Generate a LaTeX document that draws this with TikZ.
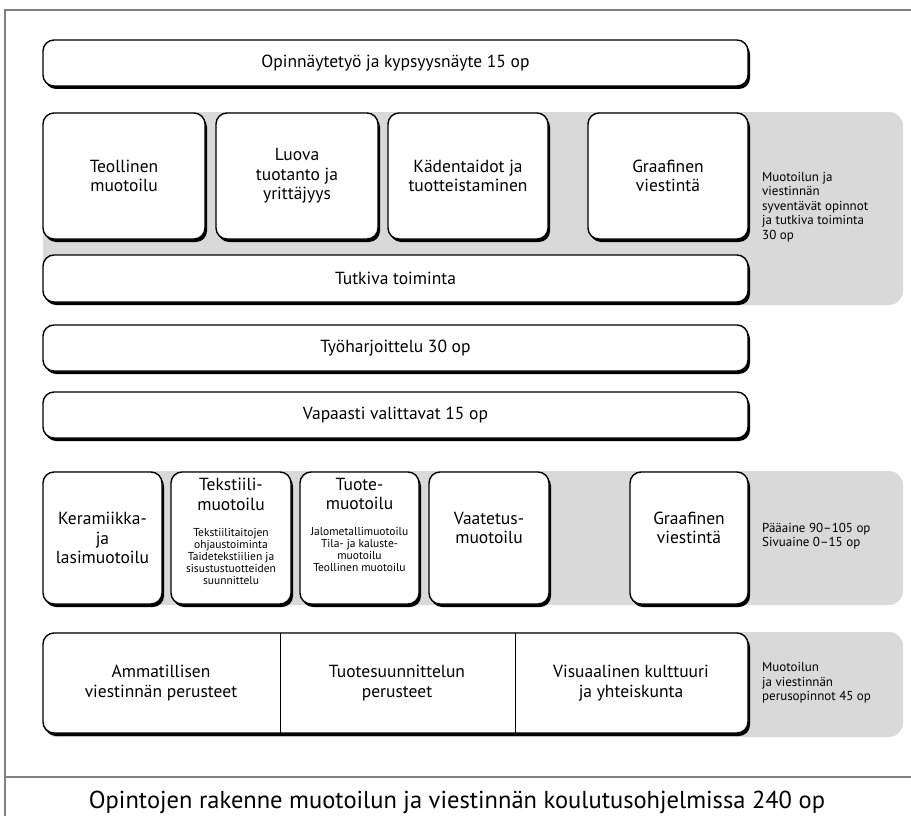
\documentclass[tikz,border=0pt]{standalone}
\usepackage{fontspec}
\setmainfont{PT Sans}
\usetikzlibrary{positioning,shadows}
\definecolor{fascia}{HTML}{D9D9D9}
\definecolor{cornice}{HTML}{808080}
\tikzset{
	card/.style={draw, line width=1.4pt, rounded corners=11pt, fill=white, align=center, anchor=north west,
		inner sep=0pt, outer sep=0pt, font=\fontsize{17.5}{19.5}\selectfont,
		drop shadow={shadow xshift=2pt, shadow yshift=-3pt, fill=black, opacity=1}},
	title/.style={align=center, inner sep=0pt, font=\fontsize{17.5}{19.5}\selectfont},
	small/.style={align=center, inner sep=0pt, font=\fontsize{11.5}{11.8}\selectfont},
	side/.style={anchor=west, align=left, inner sep=0pt, font=\fontsize{13}{14.5}\selectfont},
}

\begin{document}
\begin{tikzpicture}[x=1pt,y=-1pt]
		\useasboundingbox (0,0) rectangle (911,816);
		\clip (0,0) rectangle (911,816);
		%Cornice
		\draw [cornice, line width=1.5pt] (911,10) -- (5,10) -- (5,816);
		\draw [cornice, line width=1.5pt] (5,777) -- (911,777);
		%Fasce
		\fill [fascia, rounded corners=14pt] (43,112) rectangle (903,305);
		\fill [fascia, rounded corners=14pt] (43,471) rectangle (903,605);
		\fill [fascia, rounded corners=14pt] (43,632) rectangle (903,737);
		%Opinnaytetyo
		\node [card, minimum width=705pt, minimum height=46pt] (tesi) at (43,40) {Opinnäytetyö ja kypsyysnäyte 15 op};
		%Syventavat
		\node [card, minimum width=162pt, minimum height=126pt] (teollinen) at (43,113) {Teollinen\\muotoilu};
		\node [card, minimum width=162pt, minimum height=126pt] (luova) at (216,113) {Luova\\tuotanto ja\\yrittäjyys};
		\node [card, minimum width=160pt, minimum height=126pt] (kadentaidot) at (388,113) {Kädentaidot ja\\tuotteistaminen};
		\node [card, minimum width=160pt, minimum height=126pt] (graafinenA) at (588,113) {Graafinen\\viestintä};
		\node [card, minimum width=705pt, minimum height=47pt] (tutkiva) at (43,255) {Tutkiva toiminta};
		\node [side] (sivuA) at (762,207) {Muotoilun ja\\viestinnän\\syventävät opinnot\\ja tutkiva toiminta\\30 op};
		%Harjoittelu
		\node [card, minimum width=705pt, minimum height=46pt] (harjoittelu) at (43,325) {Työharjoittelu 30 op};
		\node [card, minimum width=705pt, minimum height=46pt] (vapaasti) at (43,392) {Vapaasti valittavat 15 op};
		%Paaaine
		\node [card, minimum width=119pt, minimum height=132pt] (keramiikka) at (43,472) {Keramiikka-\\ja\\lasimuotoilu};
		\node [card, minimum width=120pt, minimum height=132pt] (tekstiili) at (171,472) {};
		\node [title, below=6pt of tekstiili.north] (tekstiiliT) {Tekstiili-\\muotoilu};
		\node [small, below=18pt of tekstiiliT] (tekstiiliS) {Tekstiilitaitojen\\ohjaustoiminta\\Taidetekstiilien ja\\sisustustuotteiden\\suunnittelu};
		\node [card, minimum width=119pt, minimum height=132pt] (tuote) at (300,472) {};
		\node [title, below=6pt of tuote.north] (tuoteT) {Tuote-\\muotoilu};
		\node [small, below=17pt of tuoteT] (tuoteS) {Jalometallimuotoilu\\Tila- ja kaluste-\\muotoilu\\Teollinen muotoilu};
		\node [card, minimum width=120pt, minimum height=132pt] (vaatetus) at (429,472) {};
		\node [title, yshift=10pt] (vaatetusT) at (vaatetus.center) {Vaatetus-\\muotoilu};
		\node [card, minimum width=118pt, minimum height=132pt] (graafinenB) at (630,472) {};
		\node [title, yshift=10pt] (graafinenBT) at (graafinenB.center) {Graafinen\\viestintä};
		\node [side] (sivuB) at (762,536) {Pääaine 90–105 op\\Sivuaine 0–15 op};
		%Perusopinnot
		\node [card, minimum width=705pt, minimum height=100pt] (perus) at (43,633) {};
		\coordinate (div1) at (280,0);
		\coordinate (div2) at (515,0);
		\draw [line width=1pt] (perus.north -| div1) -- (perus.south -| div1);
		\draw [line width=1pt] (perus.north -| div2) -- (perus.south -| div2);
		\node [title] (ammatillisen) at (161,683) {Ammatillisen\\viestinnän perusteet};
		\node [title] (tuotesuunnittelun) at (397,683) {Tuotesuunnittelun\\perusteet};
		\node [title] (visuaalinen) at (631,683) {Visuaalinen kulttuuri\\ja yhteiskunta};
		\node [side] (sivuC) at (762,683) {Muotoilun\\ja viestinnän\\perusopinnot 45 op};
		%Otsikko
		\node [anchor=base, inner sep=0pt, font=\fontsize{24.5}{30}\selectfont] (otsikko) at (457,808) {Opintojen rakenne muotoilun ja viestinnän koulutusohjelmissa 240 op};
	\end{tikzpicture}
\end{document}
